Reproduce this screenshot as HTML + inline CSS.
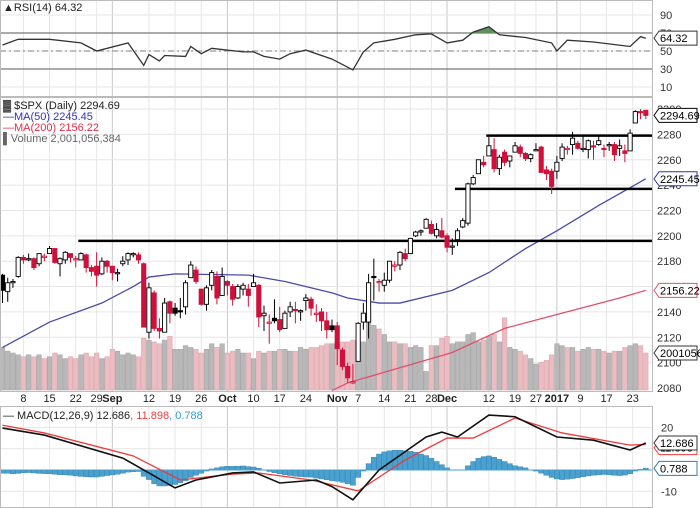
<!DOCTYPE html>
<html><head><meta charset="utf-8"><style>
body{margin:0;background:#fff;}
svg{display:block;font-family:"Liberation Sans",sans-serif;}
</style></head><body>
<svg id="chart" width="700" height="508" viewBox="0 0 700 508" xmlns="http://www.w3.org/2000/svg">
<defs>
<clipPath id="cpP"><rect x="0" y="97" width="653" height="295"/></clipPath>
<clipPath id="cpM"><rect x="0" y="406" width="653" height="102"/></clipPath>
<clipPath id="cpR"><rect x="0" y="0" width="653" height="97"/></clipPath>
</defs>
<rect x="0" y="0" width="700" height="508" fill="#fff"/>
<g id="grid"></g>
<g id="marks"></g>
<g id="axes"></g>
</svg>
<script>
const opens=[2169,2156,2163,2168,2183,2182,2182,2178,2183,2186,2190,2178,2181,2186,2182,2181,2185,2175,2176,2170,2180,2176,
2171,2178,2181,2186,2185,2178,2124,2155,2127,2124,2148,2143,2141,2144,2167,2173,2158,2146,2161,2168,2153,
2164,2160,2151,2158,2158,2160,2161,2137,2131,2135,2134,2127,2140,2142,2140,2149,2150,2138,2140,2133,2129,
2129,2110,2097,2084,2101,2132,2132,2168,2163,2161,2165,2176,2177,2186,2186,2200,2203,2206,2209,2200,2204,
2200,2191,2197,2207,2210,2241,2249,2258,2263,2268,2253,2266,2259,2266,2270,2265,2261,2267,2270,2252,2251,
2251,2261,2268,2272,2273,2268,2268,2271,2272,2269,2271,2272,2269,2267,2267,2289,2298,2299];
const closes=[2157,2163,2164,2183,2181,2182,2175,2186,2184,2190,2179,2182,2187,2183,2182,2186,2175,2172,2169,2180,2176,2171,
2171,2180,2186,2186,2181,2128,2159,2127,2125,2147,2139,2139,2140,2163,2177,2164,2146,2159,2171,2151,2168,
2161,2150,2160,2161,2153,2163,2136,2139,2132,2133,2126,2139,2144,2141,2141,2151,2143,2139,2133,2126,2126,
2111,2097,2088,2085,2131,2139,2163,2167,2164,2165,2180,2177,2187,2182,2198,2203,2204,2213,2202,2205,2199,
2191,2192,2204,2212,2241,2246,2260,2256,2271,2253,2262,2258,2263,2271,2265,2261,2264,2268,2250,2249,2239,
2258,2270,2269,2277,2269,2269,2275,2270,2275,2268,2272,2264,2271,2265,2281,2298,2297,2295];
const highs=[2170,2167,2166,2184,2185,2186,2183,2186,2186,2192,2190,2183,2188,2186,2184,2187,2186,2177,2187,2183,2181,2176,
2174,2184,2187,2187,2187,2179,2163,2157,2135,2151,2149,2147,2151,2165,2180,2176,2158,2161,2173,2172,2175,
2165,2162,2162,2163,2162,2170,2162,2145,2138,2150,2144,2141,2148,2148,2142,2154,2152,2146,2143,2140,2134,
2132,2112,2100,2099,2132,2147,2170,2182,2166,2171,2180,2180,2188,2190,2198,2204,2205,2214,2212,2210,2214,
2202,2198,2206,2214,2242,2248,2260,2263,2278,2277,2264,2268,2263,2274,2272,2266,2265,2273,2271,2255,2253,
2263,2273,2271,2282,2275,2280,2276,2275,2279,2272,2274,2274,2276,2272,2284,2299,2300,2299];
const lows=[2147,2148,2159,2167,2178,2180,2173,2176,2180,2186,2178,2168,2178,2179,2175,2181,2171,2168,2160,2169,2171,2165,
2164,2176,2177,2183,2178,2128,2119,2125,2119,2124,2131,2137,2135,2138,2167,2162,2145,2141,2157,2146,2153,
2153,2145,2150,2153,2144,2160,2128,2125,2115,2131,2124,2128,2136,2131,2133,2141,2137,2132,2125,2119,2124,
2098,2094,2084,2083,2101,2126,2119,2149,2156,2156,2163,2172,2173,2180,2186,2199,2200,2206,2201,2198,2198,
2187,2185,2192,2206,2208,2240,2249,2254,2263,2250,2248,2255,2254,2266,2262,2259,2258,2267,2250,2244,2233,
2245,2259,2264,2264,2268,2266,2261,2260,2271,2262,2267,2259,2263,2258,2267,2289,2292,2292];
const volumes=[2.3,2.1,2.0,1.9,1.8,1.9,1.8,1.9,1.7,1.8,2.0,1.9,1.7,1.8,1.7,1.9,2.0,1.8,2.0,1.7,1.8,2.2,
2.1,1.9,2.0,1.9,1.8,2.8,2.7,2.6,2.5,2.7,2.9,2.2,2.2,2.4,2.3,2.2,2.0,2.2,2.5,2.3,2.5,
2.0,2.1,2.2,2.0,2.0,1.7,2.1,2.0,2.1,2.1,2.2,2.2,2.1,2.1,2.3,2.2,2.3,2.3,2.4,2.5,2.5,
2.6,2.6,2.6,2.7,2.6,2.6,4.3,3.5,3.3,3.0,2.6,2.6,2.5,2.5,2.3,2.4,2.3,1.0,2.4,2.4,2.8,
2.9,2.5,2.6,2.6,3.0,3.1,2.6,2.7,2.9,3.0,2.6,3.9,2.3,2.2,2.1,1.9,1.7,1.4,1.5,1.6,1.9,
2.5,2.4,2.3,2.3,2.1,2.2,2.3,2.2,2.2,2.1,2.0,2.1,2.1,2.3,2.4,2.5,2.4,2.0];
const hist=[-1.5,-1.5,-1.8,-1.6,-1.3,-1.2,-1.4,-1.6,-1.7,-1.8,-2,-2.2,-2.3,-2.5,-2.8,-3.0,-3.2,-3.3,-3.3,-3.0,-2.6,-2.3,
-2,-1.5,-1,-0.8,-0.7,-3,-4.5,-6.5,-7.5,-7.5,-7.3,-6.8,-6,-5,-3.5,-2.5,-1.5,-0.5,0.5,1,1.5,
1.8,1.7,1.8,1.9,1.6,1.4,0.8,0,-0.7,-1.3,-1.8,-2.2,-2.6,-2.9,-3.1,-3.3,-3.4,-3.8,-4.2,-4.6,-5,
-5.3,-5.8,-6.5,-7.2,-3.5,-0.5,3,6,7.5,8.5,9,9.3,9.3,9,8.8,8.3,7.5,6.8,5.5,4,2.5,
1,0,0,0,2,4,5.5,6.3,6.6,6,5,4,3,2,1.5,1,0,-0.5,-1.5,-2.5,-3.5,
-4.2,-4.5,-4.3,-4,-3.6,-3.2,-2.8,-2.5,-2.3,-2.1,-2.2,-2.5,-2.6,-2.4,-1.8,-0.5,0.3,0.8];
const ma50Idx=[0,9,19,25,28,33,47,54,63,66,72,76,86,93,100,106,114,123];
const ma50Vals=[2112,2132,2147,2160,2167.5,2170,2169,2164,2155,2151,2147,2147,2157,2171,2190,2204,2224,2245];
const ma200Idx=[63,66,86,96,106,118,123];
const ma200Vals=[2078,2084,2108,2127,2138,2151,2157];
const rsiIdx=[0,3,9,15,18,24,27,28,30,31,35,36,38,40,46,48,50,53,55,58,63,67,69,71,75,79,82,85,88,90,93,95,100,105,106,108,113,120,122,123];
const rsiVals=[56.7,63,63,59,50,59,34,46,39,45,44,55,47,53,49,49,44,41,47,51,41,29,49,59,63,68,69,59,62,71,77,68,65,59,50,62,60,55,66,64];
const macdIdx=[0,8,23,28,33,37,44,48,53,60,63,67,72,81,84,87,93,98,106,113,120,123];
const macdVals=[19.7,16.4,5.6,-1.4,-8.4,-4.7,-1.4,-0.9,-6.1,-4.7,-7.8,-14,0,15.5,17.8,15.5,25.8,25,15.5,14,9.4,12.7];
const sigIdx=[0,8,25,34,44,49,59,68,77,85,90,98,107,120,123];
const sigVals=[21,17.4,6.6,-4.7,-1.9,-1.4,-4.7,-9.8,4.7,15,15,24.4,17.4,11.7,12];
const priceTicks=[2300,2280,2260,2240,2220,2200,2180,2160,2140,2120,2100,2080];
const rsiTicks=[90,70,50,30,10];
const macdTicks=[20,10,-10];
const dateLabels=["8","15","22","29","Sep","12","19","26","Oct","10","17","24","Nov","7","14","21","28","Dec","12","19","27","2017","9","17","23"];
const dateIdx=[4,9,14,18,21,28,33,38,43,48,53,58,64,68,73,78,82,85,93,98,102,106,110.5,115.5,120.5];
const boldLabels=["Sep","Oct","Nov","Dec","2017"];
const levelPrices=[2196,2279,2237];
const levelStartIdx=[14.5,92.5,86.5];

const NS="http://www.w3.org/2000/svg";
const X=i=>2.5+i*5.23;
const PY=p=>388-(p-2080)*1.268;
const VY=v=>390-v*18.5;
const RY=v=>51-(v-50)*0.9;
const MY=v=>470-v*2.13;
function el(tag,attrs,parent){const e=document.createElementNS(NS,tag);for(const k in attrs)e.setAttribute(k,attrs[k]);parent.appendChild(e);return e;}
const grid=document.getElementById('grid'),marks=document.getElementById('marks'),axes=document.getElementById('axes');

[[0,0,97],[0,97,295],[0,406,102]].forEach((p,k)=>{
  const r=el('rect',{x:0.5,y:p[1]+0.5,width:652,height:p[2]-1,fill:'none',stroke:'#bbb'},axes);
  
  
});
dateIdx.forEach((d,k)=>{
  const x=X(d);
  const strong=boldLabels.includes(dateLabels[k]);
  [[0,97],[97,392],[406,508]].forEach(s=>{
    const l=el('line',{x1:x,x2:x,y1:s[0],y2:s[1],stroke:strong?'#c8c8c8':'#e6e6e6','stroke-width':1},grid);
    
    
  });
  const t=el('text',{x:x,y:402,'font-size':11,'text-anchor':'middle',fill:'#222','font-weight':strong?'bold':'normal'},axes);
  t.textContent=dateLabels[k];
  
  
});
priceTicks.forEach(p=>{
  const l=el('line',{x1:0,x2:653,y1:PY(p),y2:PY(p),stroke:'#e6e6e6'},grid);
  
  
  const t=el('text',{x:657,y:PY(p)+4,'font-size':11,fill:'#333'},axes);
  t.textContent=p;
  
  
});
rsiTicks.forEach(v=>{
  const t=el('text',{x:660,y:RY(v)+4,'font-size':11,fill:'#333'},axes);
  t.textContent=v;
  
  
  const l=el('line',{x1:0,x2:653,y1:RY(v),y2:RY(v),stroke:'#e6e6e6'},grid);
  
  
});
macdTicks.forEach(v=>{
  const t=el('text',{x:661,y:MY(v)+4,'font-size':11,fill:'#333'},axes);
  t.textContent=v;
  
  
  const l=el('line',{x1:0,x2:653,y1:MY(v),y2:MY(v),stroke:'#e6e6e6'},grid);
  
  
});

const gR=el('g',{'clip-path':'url(#cpR)'},marks);
[[70,'#777','none'],[30,'#777','none'],[50,'#999','6,3,2,3']].forEach(r=>{
  const l=el('line',{x1:0,x2:653,y1:RY(r[0]),y2:RY(r[0]),stroke:r[1],'stroke-width':1.2,'stroke-dasharray':r[2]},gR);
  
  
});
let rp=rsiIdx.map((d,k)=>X(d)+','+RY(rsiVals[k])).join(' ');
let fillPts=[];
rsiIdx.forEach((d,k)=>{if(rsiVals[k]>=70)fillPts.push([X(d),RY(rsiVals[k])]);});
if(fillPts.length){
  const a=X(rsiIdx[rsiVals.findIndex(v=>v>=70)]-1.5),b=X(rsiIdx[rsiVals.length-1-[...rsiVals].reverse().findIndex(v=>v>=70)]+1.5);
  const f=el('polygon',{points:a+','+RY(70)+' '+fillPts.map(p=>p.join(',')).join(' ')+' '+b+','+RY(70),fill:'#5f8f5a'},gR);
  
  
}
const rl=el('polyline',{points:rp,fill:'none',stroke:'#333','stroke-width':1.3},gR);



const gP=el('g',{'clip-path':'url(#cpP)'},marks);
closes.forEach((c,i)=>{
  const up=i===0?true:c>=closes[i-1];
  const b=el('rect',{x:X(i)-2.3,y:VY(volumes[i]),width:4.6,height:390-VY(volumes[i]),fill:up?'#b8b8b8':'#ebbcc2',stroke:up?'#a0a0a0':'#dba2aa','stroke-width':0.5},gP);
  
  
});
const ma2=el('polyline',{points:ma200Idx.map((d,k)=>X(d)+','+PY(ma200Vals[k])).join(' '),fill:'none',stroke:'#e0506a','stroke-width':1.3},gP);


const ma5=el('polyline',{points:ma50Idx.map((d,k)=>X(d)+','+PY(ma50Vals[k])).join(' '),fill:'none',stroke:'#4a4aa8','stroke-width':1.3},gP);


levelPrices.forEach((p,k)=>{
  const l=el('line',{x1:X(levelStartIdx[k]),x2:653,y1:PY(p),y2:PY(p),stroke:'#000','stroke-width':2.5},gP);
  
  
});
closes.forEach((c,i)=>{
  const o=opens[i];
  const col=(i===0||c>=closes[i-1])?'#000':'#d0103a';
  const x=X(i);
  const g=el('g',{},gP);
  
  
  el('line',{x1:x,x2:x,y1:PY(highs[i]),y2:PY(lows[i]),stroke:col,'stroke-width':1},g);
  const top=PY(Math.max(o,c)),bot=PY(Math.min(o,c));
  el('rect',{x:x-2.1,y:top,width:4.2,height:Math.max(1.2,bot-top),fill:c<o?col:'#fff',stroke:col,'stroke-width':0.9},g);
});

const gM=el('g',{'clip-path':'url(#cpM)'},marks);
hist.forEach((h,i)=>{
  const y0=MY(0),y1=MY(h);
  const b=el('rect',{x:X(i)-2.6,y:Math.min(y0,y1),width:5.2,height:Math.abs(y1-y0),fill:'#4aa0cf',stroke:'#2f7ea8','stroke-width':0.4},gM);
  
  
});
const z=el('line',{x1:0,x2:653,y1:MY(0),y2:MY(0),stroke:'#4aa0cf','stroke-width':1},gM);


const sl=el('polyline',{points:sigIdx.map((d,k)=>X(d)+','+MY(sigVals[k])).join(' '),fill:'none',stroke:'#ee3a3a','stroke-width':1.3},gM);


const ml=el('polyline',{points:macdIdx.map((d,k)=>X(d)+','+MY(macdVals[k])).join(' '),fill:'none',stroke:'#111','stroke-width':1.6},gM);



function box(y,txt,col,name){
  const g=el('g',{},axes);
  
  
  el('path',{d:`M654,${y} L659,${y-7} L697,${y-7} L697,${y+7} L659,${y+7} Z`,fill:'#fff',stroke:col,'stroke-width':1},g);
  const t=el('text',{x:660,y:y+4,'font-size':11,fill:'#000'},g);t.textContent=txt;
}
box(RY(64.32),'64.32','#333','rsi-value-box');
box(PY(closes[closes.length-1]),'2294.69','#000','price-value-box');
box(PY(ma50Vals[ma50Vals.length-1]),'2245.45','#3333aa','ma50-value-box');
box(PY(ma200Vals[ma200Vals.length-1]),'2156.22','#e0506a','ma200-value-box');
box(VY(volumes[volumes.length-1]),'2001056','#333','volume-value-box');
box(MY(11.898)+3,'11.898','#ee3a3a','signal-value-box');
box(MY(12.686),'12.686','#333','macd-value-box');
box(MY(0.788),'0.788','#2f7ea8','histogram-value-box');

function legend(x,y,parts,name){
  const t=el('text',{x:x,y:y,'font-size':11},axes);
  
  
  parts.forEach(p=>{const s=el('tspan',{fill:p[1]},t);s.textContent=p[0];});
}
legend(3,11,[['\u25B2RSI(14) 64.32','#222']],'rsi-legend');
legend(3,109,[['\u2593 $SPX (Daily) 2294.69','#222']],'price-legend');
legend(3,120,[['\u2014MA(50) 2245.45','#3333aa']],'ma50-legend');
legend(3,131,[['\u2014MA(200) 2156.22','#e0304a']],'ma200-legend');
legend(3,142,[['\u258CVolume 2,001,056,384','#666']],'volume-legend');
legend(3,419,[['\u2014 MACD(12,26,9) 12.686','#222'],[', 11.898','#ee3a3a'],[', 0.788','#3a9ad0']],'macd-legend');
</script>
</body></html>
